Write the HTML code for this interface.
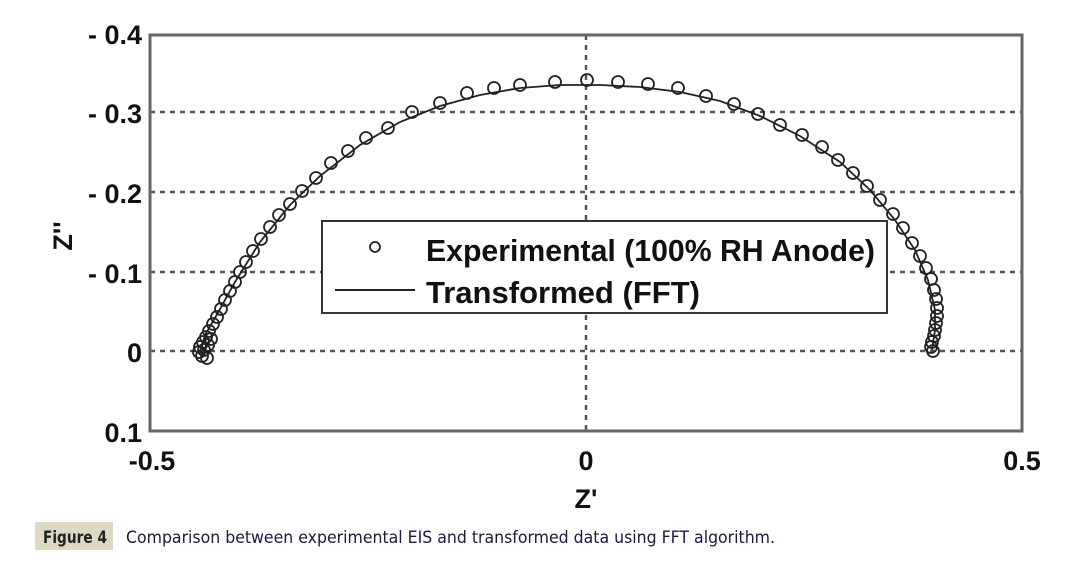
<!DOCTYPE html>
<html><head><meta charset="utf-8"><style>
body{margin:0;background:#fff;width:1077px;height:562px;overflow:hidden;font-family:"Liberation Sans",Arial,sans-serif}
</style></head><body>
<svg width="1077" height="562" viewBox="0 0 1077 562" style="position:absolute;left:0;top:0">
<g stroke="#555" stroke-width="2.5" stroke-dasharray="5,5">
<line x1="150" y1="112" x2="1022" y2="112"/>
<line x1="150" y1="192" x2="1022" y2="192"/>
<line x1="150" y1="272" x2="1022" y2="272"/>
<line x1="150" y1="351" x2="1022" y2="351"/>
<line x1="586" y1="35" x2="586" y2="431"/>
</g>
<rect x="150" y="35" width="872" height="396" fill="none" stroke="#666" stroke-width="3"/>
<g font-weight="bold" font-size="27" fill="#111" text-anchor="end">
<text x="142" y="44">- 0.4</text>
<text x="142" y="123">- 0.3</text>
<text x="142" y="203">- 0.2</text>
<text x="142" y="283">- 0.1</text>
<text x="142" y="362">0</text>
<text x="142" y="442">0.1</text>
</g>
<g font-weight="bold" font-size="27" fill="#111" text-anchor="middle">
<text x="152" y="470">-0.5</text>
<text x="586" y="470">0</text>
<text x="1022" y="470">0.5</text>
<text x="586" y="508">Z'</text>
<text transform="translate(72,236) rotate(-90)">Z''</text>
</g>
<polyline fill="none" stroke="#222" stroke-width="1.8" points="200,352 205,335 215,318 235,282 260,242 290,205 320,176 360,145 400,122 440,106 480,95 520,88 560,85 600,85 640,87 680,92 720,101 760,116 800,136 840,162 870,190 895,220 915,250 928,280 935,310 935,330 932,350"/>
<g fill="none" stroke="#222" stroke-width="1.8">
<circle cx="587" cy="80" r="6"/><circle cx="555" cy="82" r="6"/><circle cx="520" cy="85" r="6"/><circle cx="494" cy="88" r="6"/><circle cx="467" cy="93" r="6"/><circle cx="440" cy="103" r="6"/><circle cx="412" cy="112" r="6"/><circle cx="388" cy="128" r="6"/><circle cx="366" cy="138" r="6"/><circle cx="348" cy="151" r="6"/><circle cx="331" cy="163" r="6"/><circle cx="316" cy="178" r="6"/><circle cx="302" cy="191" r="6"/><circle cx="290" cy="204" r="6"/><circle cx="279" cy="215" r="6"/><circle cx="270" cy="227" r="6"/><circle cx="261" cy="239" r="6"/><circle cx="253" cy="251" r="6"/><circle cx="246" cy="262" r="6"/><circle cx="240" cy="272" r="6"/><circle cx="235" cy="282" r="6"/><circle cx="230" cy="291" r="6"/><circle cx="225" cy="300" r="6"/><circle cx="221" cy="309" r="6"/><circle cx="217" cy="317" r="6"/><circle cx="213" cy="324" r="6"/><circle cx="209" cy="331" r="6"/><circle cx="206" cy="337" r="6"/><circle cx="203" cy="342" r="6"/><circle cx="200" cy="347" r="6"/><circle cx="199" cy="352" r="6"/><circle cx="202" cy="356" r="6"/><circle cx="207" cy="358" r="6"/><circle cx="204" cy="350" r="6"/><circle cx="208" cy="345" r="6"/><circle cx="211" cy="339" r="6"/>
<circle cx="618" cy="82" r="6"/><circle cx="648" cy="84" r="6"/><circle cx="678" cy="88" r="6"/><circle cx="706" cy="96" r="6"/><circle cx="734" cy="104" r="6"/><circle cx="758" cy="114" r="6"/><circle cx="780" cy="125" r="6"/><circle cx="802" cy="135" r="6"/><circle cx="822" cy="147" r="6"/><circle cx="838" cy="160" r="6"/><circle cx="853" cy="173" r="6"/><circle cx="867" cy="186" r="6"/><circle cx="880" cy="200" r="6"/><circle cx="893" cy="214" r="6"/><circle cx="903" cy="228" r="6"/><circle cx="912" cy="243" r="6"/><circle cx="920" cy="256" r="6"/><circle cx="926" cy="268" r="6"/><circle cx="931" cy="279" r="6"/><circle cx="934" cy="290" r="6"/><circle cx="936" cy="299" r="6"/><circle cx="937" cy="308" r="6"/><circle cx="937" cy="316" r="6"/><circle cx="936" cy="323" r="6"/><circle cx="935" cy="330" r="6"/><circle cx="934" cy="336" r="6"/><circle cx="932" cy="342" r="6"/><circle cx="931" cy="347" r="6"/><circle cx="933" cy="351" r="6"/>
</g>
<rect x="322" y="221" width="565" height="92" fill="#fff" stroke="#333" stroke-width="2"/>
<circle cx="375" cy="247" r="5" fill="none" stroke="#222" stroke-width="1.8"/>
<line x1="335" y1="290" x2="415" y2="290" stroke="#222" stroke-width="2"/>
<g font-weight="bold" font-size="31" fill="#111">
<text x="426" y="261" textLength="449" lengthAdjust="spacingAndGlyphs">Experimental (100% RH Anode)</text>
<text x="426" y="303" textLength="274" lengthAdjust="spacingAndGlyphs">Transformed (FFT)</text>
</g>
<rect x="35" y="522" width="78" height="28" fill="#ddd9c3"/>
<text x="43" y="543" font-family="'DejaVu Sans',sans-serif" font-weight="bold" font-size="17" fill="#222" textLength="64" lengthAdjust="spacingAndGlyphs">Figure 4</text>
<text x="126" y="543" font-family="'DejaVu Sans',sans-serif" font-size="17" fill="#1a1a40" textLength="649" lengthAdjust="spacingAndGlyphs">Comparison between experimental EIS and transformed data using FFT algorithm.</text>
</svg>
</body></html>
